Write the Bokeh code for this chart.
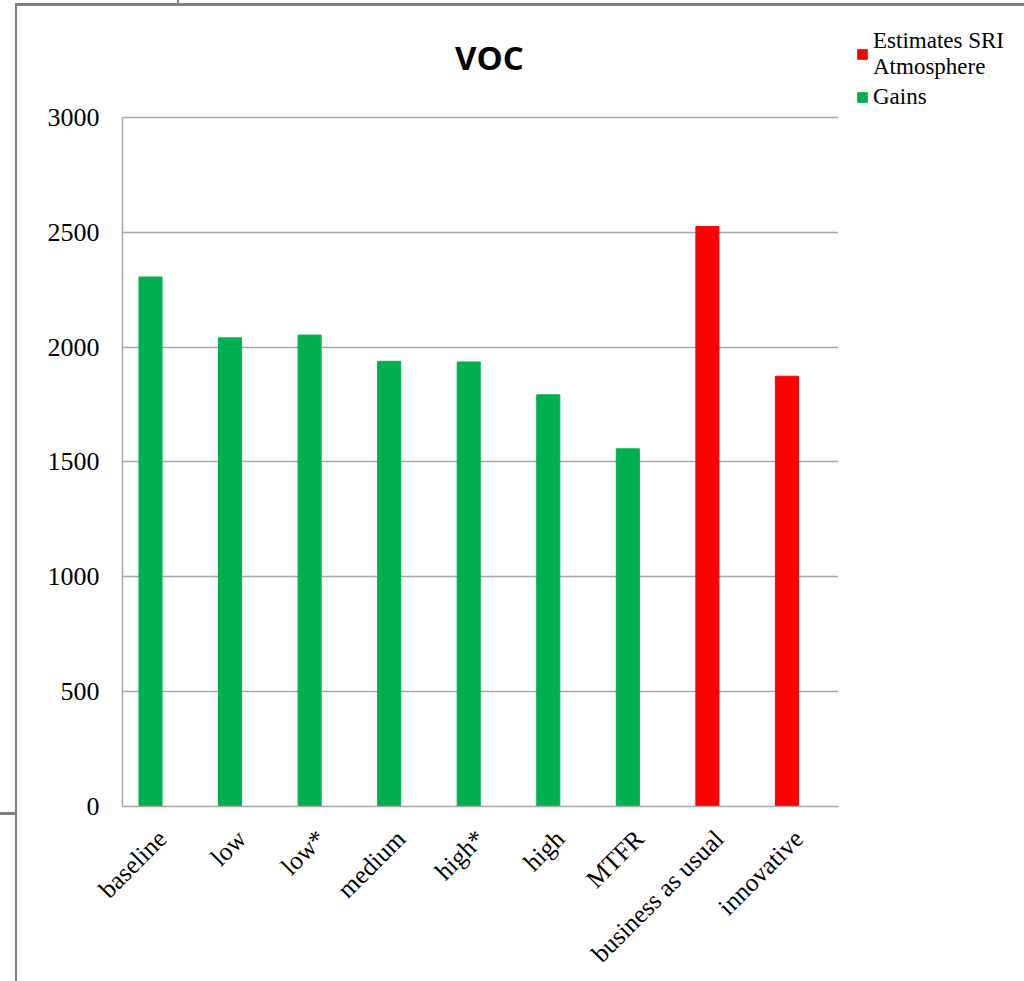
from bokeh.plotting import figure
from bokeh.layouts import row
from bokeh.models import (ColumnDataSource, FactorRange, Range1d, FixedTicker, Label,
                          Legend, LegendItem)
from bokeh.transform import dodge
from bokeh.embed import file_html
from bokeh.resources import INLINE
import math

categories = ["baseline", "low", "low*", "medium", "high*", "high", "MTFR",
              "business as usual", "innovative"]
gains_cats = ["baseline", "low", "low*", "medium", "high*", "high", "MTFR"]
gains_vals = [2305, 2040, 2052, 1938, 1935, 1792, 1557]
sri_cats = ["business as usual", "innovative"]
sri_vals = [2525, 1873]
y_ticks = [0, 500, 1000, 1500, 2000, 2500, 3000]
series_names = ["Estimates SRI\nAtmosphere", "Gains"]

GREEN = "#00B050"
RED = "#FF0000"
GRID = "#A6A6A6"
SERIF = "Liberation Serif"

# main chart: the frame reaches up to the title band; the value axis stops at 3000
p = figure(width=838, height=981, x_range=FactorRange(*categories, range_padding=0),
           y_range=Range1d(0, 3465), output_backend="svg", toolbar_location=None,
           min_border_left=122, min_border_right=0, min_border_top=10,
           min_border_bottom=174)
p.border_fill_color = None

src_g = ColumnDataSource(dict(cat=gains_cats, val=gains_vals))
src_r = ColumnDataSource(dict(cat=sri_cats, val=sri_vals))
p.vbar(x=dodge("cat", -0.148, range=p.x_range), top="val", width=0.29, source=src_g,
       fill_color=GREEN, line_color=GREEN)
p.vbar(x=dodge("cat", -0.148, range=p.x_range), top="val", width=0.29, source=src_r,
       fill_color=RED, line_color=RED)

p.add_layout(Label(x=4.613, y=3261, text="VOC", text_align="center",
                   text_baseline="alphabetic", text_font="Open Sans",
                   text_font_style="bold", text_font_size="33px", text_color="#000000"))

p.yaxis.ticker = FixedTicker(ticks=y_ticks)
p.yaxis.bounds = (0, 3000)
for ax in (p.xaxis[0], p.yaxis[0]):
    ax.axis_line_color = GRID
    ax.axis_line_width = 1.5
    ax.major_tick_line_color = None
    ax.minor_tick_line_color = None
    ax.major_label_text_font = SERIF
    ax.major_label_text_color = "#000000"
p.yaxis.major_label_text_font_size = "26px"
p.yaxis.major_label_standoff = 17
p.xaxis.major_label_text_font_size = "25.5px"
p.xaxis.major_label_orientation = math.pi / 4
p.xaxis.major_label_standoff = 22

p.xgrid.grid_line_color = None
p.ygrid.grid_line_color = GRID
p.ygrid.grid_line_width = 1.5
p.outline_line_color = None

# legend panel to the right of the chart (its frame lines up with the chart's)
q = figure(width=186, height=981, x_range=Range1d(0, 1), y_range=Range1d(0, 1),
           output_backend="svg", toolbar_location=None, x_axis_location=None,
           y_axis_location=None, min_border_left=0, min_border_top=10,
           min_border_right=0, min_border_bottom=174)
q.border_fill_color = None
q.background_fill_color = None
q.outline_line_color = None
q.grid.visible = False
# legend swatches only (placed outside the visible range)
lr = q.vbar(x=[-5], top=[-5], bottom=-6, width=0.1, fill_color=RED, line_color=RED)
lg = q.vbar(x=[-5], top=[-5], bottom=-6, width=0.1, fill_color=GREEN, line_color=GREEN)
legend = Legend(items=[LegendItem(label=series_names[0], renderers=[lr]),
                       LegendItem(label=series_names[1], renderers=[lg])],
                location="top_left", border_line_color=None, background_fill_alpha=0,
                label_text_font=SERIF, label_text_font_size="23px",
                label_text_color="#000000",
                glyph_width=12, glyph_height=12, label_standoff=5, spacing=4,
                padding=0, margin=18)
q.add_layout(legend, "center")

layout = row(p, q)
layout.styles = {
    "background-color": "white",
    "background-image": ", ".join(["linear-gradient(#808080,#808080)"] * 4),
    "background-size": "2px 978px, 1009px 3px, 2px 4px, 16px 3px",
    "background-position": "15px 3px, 15px 3px, 177px 0px, 0px 812px",
    "background-repeat": "no-repeat",
}

open("out.html", "w").write(file_html(layout, INLINE))
